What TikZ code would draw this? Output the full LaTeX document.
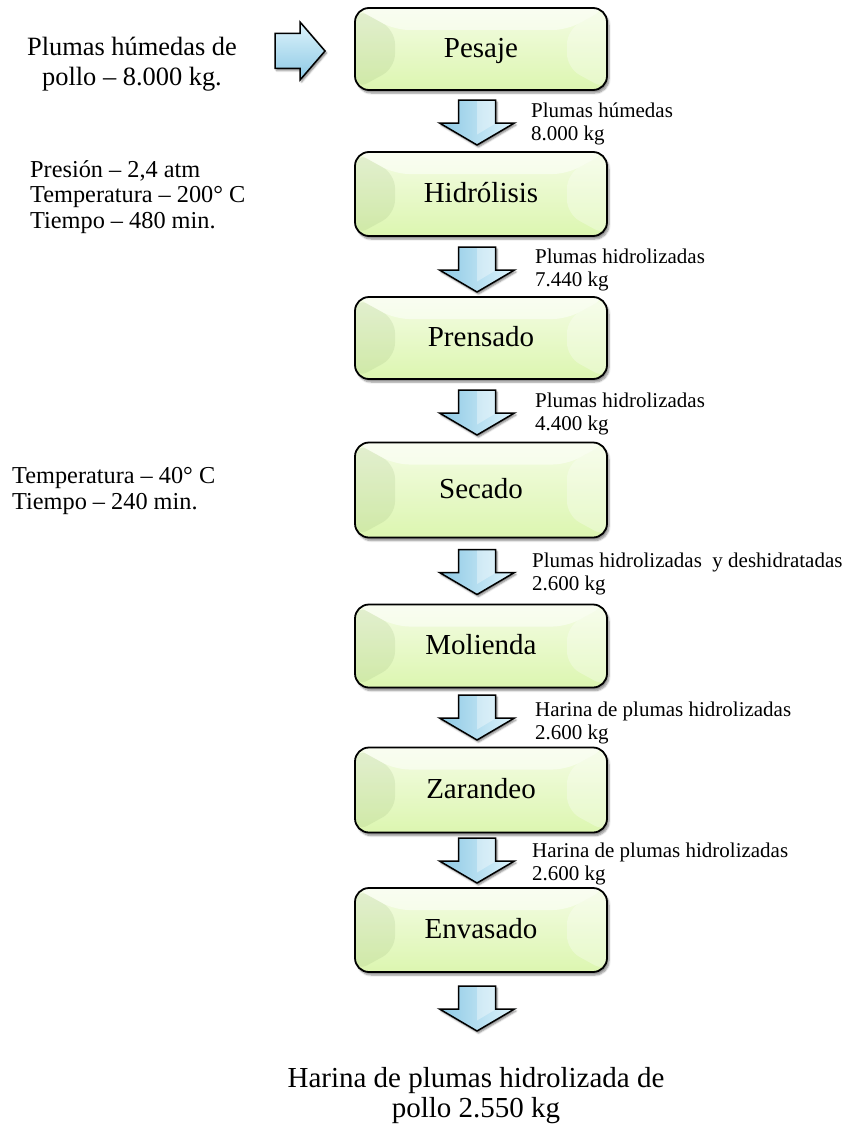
\documentclass[tikz,border=0pt]{standalone}
\usepackage{fontspec}
\setmainfont{Liberation Serif}
\usepackage{tikz}
\usetikzlibrary{shadows.blur}

\definecolor{boxTop}{RGB}{244,252,228}
\definecolor{boxBot}{RGB}{220,246,176}
\definecolor{boxSide}{RGB}{150,180,120}
\definecolor{arrowDark}{RGB}{140,200,228}
\definecolor{arrowLight}{RGB}{222,244,252}

\tikzset{
    stepbox/.style={
        draw,
        line width=1.8pt,
        rounded corners=14pt,
        top color=boxTop,
        bottom color=boxBot,
        minimum width=252pt,
        minimum height=84pt,
        text height=20pt,
        text depth=3pt,
        font=\fontsize{29}{33}\selectfont,
        blur shadow={shadow xshift=2pt, shadow yshift=-3pt,
            shadow blur steps=6, shadow opacity=45},
        path picture={
            \fill[boxSide, opacity=.18] (path picture bounding box.north west)
                -- ([xshift=40pt,yshift=-22pt]path picture bounding box.north west)
                -- ([xshift=40pt,yshift=22pt]path picture bounding box.south west)
                -- (path picture bounding box.south west) -- cycle;
            \fill[white, opacity=.5] (path picture bounding box.north west)
                -- (path picture bounding box.north east)
                -- ([xshift=-40pt,yshift=-22pt]path picture bounding box.north east)
                -- ([xshift=40pt,yshift=-22pt]path picture bounding box.north west) -- cycle;
            \fill[white, opacity=.3] (path picture bounding box.north east)
                -- (path picture bounding box.south east)
                -- ([xshift=-40pt,yshift=22pt]path picture bounding box.south east)
                -- ([xshift=-40pt,yshift=-22pt]path picture bounding box.north east) -- cycle;
        }
    }
}
\tikzset{
    arrowbody/.style={
        draw,
        line width=1.5pt,
        line join=miter,
        left color=arrowDark,
        right color=arrowLight,
        blur shadow={shadow xshift=1.5pt, shadow yshift=-2pt,
            shadow blur steps=4, shadow opacity=50}
    },
    downarrow/.pic={
        \draw[arrowbody] (-18.5,-22.5) -- (18.5,-22.5) -- (18.5,0.5) -- (37.5,0.5)
            -- (0,22.5) -- (-37.5,0.5) -- (-18.5,0.5) -- cycle;
        \fill[white, opacity=.35] (0,-21.5) -- (17.5,-21.5) -- (17.5,1.5) -- (0,12) -- cycle;
    },
    rightarrow/.pic={
        \draw[arrowbody, top color=arrowLight, bottom color=arrowDark]
            (-25,-17.5) -- (0,-17.5) -- (0,-29) -- (25,0) -- (0,29) -- (0,17.5)
            -- (-25,17.5) -- cycle;
    }
}
\tikzset{
    flowlabel/.style={anchor=base west, align=left, inner sep=0pt,
        font=\fontsize{21}{23}\selectfont},
    sidenote/.style={anchor=base west, align=left, inner sep=0pt,
        font=\fontsize{24.3}{25.5}\selectfont},
    product/.style={anchor=base, align=center, inner sep=0pt,
        font=\fontsize{26.4}{30}\selectfont}
}
\newcommand{\drawStep}[4][]{\node[stepbox,#1] (#2) at #3 {#4}}
\newcommand{\drawDown}[2]{\coordinate (#1) at #2; \pic at (#1) {downarrow}}

\begin{document}
\begin{tikzpicture}[x=1pt,y=-1pt]
    \useasboundingbox (0,0) rectangle (850,1124);

    \node[product] (feed) at (132,85) {Plumas húmedas de\\pollo – 8.000 kg.};
    \coordinate (feedArrow) at (300,51);
    \pic at (feedArrow) {rightarrow};

    \drawStep[minimum height=82pt]{pesaje}{(481,49)}{Pesaje};
    \drawDown{down1}{(477,122.5)};
    \node[flowlabel] (lab1) at (531,140) {Plumas húmedas\\8.000 kg};

    \node[sidenote] (cond1) at (30,228) {Presión – 2,4 atm\\Temperatura – 200° C\\Tiempo – 480 min.};
    \drawStep{hidrolisis}{(481,194)}{Hidrólisis};
    \drawDown{down2}{(477,269.5)};
    \node[flowlabel] (lab2) at (535,286) {Plumas hidrolizadas\\7.440 kg};

    \drawStep[minimum height=82pt]{prensado}{(481,338)}{Prensado};
    \drawDown{down3}{(477,412.5)};
    \node[flowlabel] (lab3) at (535,430) {Plumas hidrolizadas\\4.400 kg};

    \node[sidenote] (cond2) at (12,509) {Temperatura – 40° C\\Tiempo – 240 min.};
    \drawStep[minimum height=95pt]{secado}{(481,490)}{Secado};
    \drawDown{down4}{(477,572)};
    \node[flowlabel] (lab4) at (532,590) {Plumas hidrolizadas\ \ y deshidratadas\\2.600 kg};

    \drawStep[minimum height=83pt]{molienda}{(481,646)}{Molienda};
    \drawDown{down5}{(477,717.5)};
    \node[flowlabel] (lab5) at (535,739) {Harina de plumas hidrolizadas\\2.600 kg};

    \drawStep[minimum height=85pt]{zarandeo}{(481,790)}{Zarandeo};
    \drawDown{down6}{(477,860.5)};
    \node[flowlabel] (lab6) at (532,880) {Harina de plumas hidrolizadas\\2.600 kg};

    \drawStep{envasado}{(481,930)}{Envasado};
    \drawDown{down7}{(477,1008.5)};

    \node[product, font=\fontsize{29}{30}\selectfont] (meal) at (476,1117) {Harina de plumas hidrolizada de\\pollo 2.550 kg};

\end{tikzpicture}
\end{document}
